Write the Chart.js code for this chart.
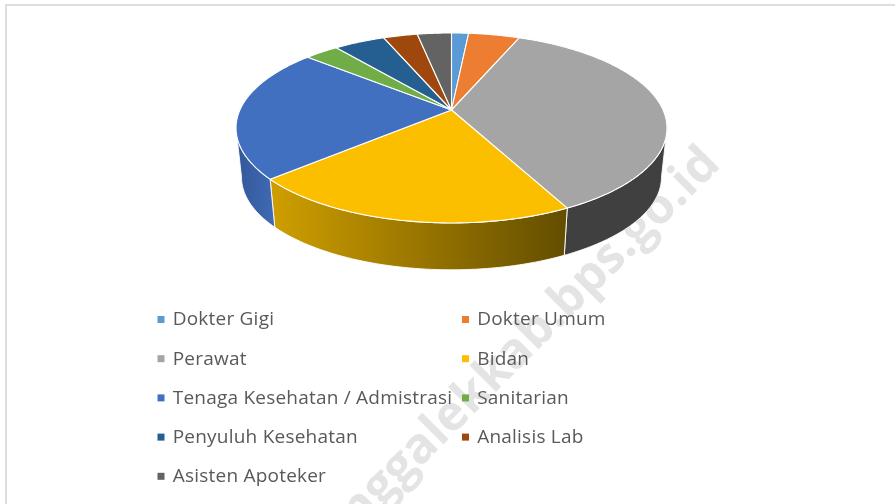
<!DOCTYPE html>
<html>
<head>
<meta charset="utf-8">
<style>
html,body{margin:0;padding:0;background:#fff;overflow:hidden}
canvas{display:block}
</style>
<script src="https://cdn.jsdelivr.net/npm/chart.js@4"></script>
</head>
<body>
<canvas id="c" width="895" height="504"></canvas>
<script>
const categories = ["Dokter Gigi","Dokter Umum","Perawat","Bidan","Tenaga Kesehatan / Admistrasi","Sanitarian","Penyuluh Kesehatan","Analisis Lab","Asisten Apoteker"];
const values = [10,30,237,137,148,20,30,20,20];
const colors = ["#5b9bd5","#ed7d31","#a5a5a5","#fbbf00","#4270c0","#70ad47","#255e91","#9e480e","#636363"];
const sideColors = ["#37678f","#8e4b1d","#404040",null,null,"#43682b","#163857","#5f2b08","#3b3b3b"];
const watermark = "trenggalekkab.bps.go.id";

// Projection of the flat pie plane into the tilted perspective view
const top3d = {cx:451.5, cy:110, a:211.6, b:91.6, k:0.189};
const base3d = {cx:451.5, cy:159.7, a:206.2, b:89.3, k:0.189};
const FRONT0 = 11*Math.PI/180, FRONT1 = 169*Math.PI/180;
function proj(p, ang){
  const w = 1 - p.k*Math.sin(ang);
  return [p.cx + p.a*Math.cos(ang)/w, p.cy + p.b*Math.sin(ang)/w];
}
function sideFill(ctx, i){
  if (categories[i] === "Bidan"){
    const g = ctx.createLinearGradient(270,0,567,0);
    g.addColorStop(0,"#cf9f00"); g.addColorStop(1,"#634d00");
    return g;
  }
  if (categories[i] === "Tenaga Kesehatan / Admistrasi"){
    const g = ctx.createLinearGradient(238,0,273,0);
    g.addColorStop(0,"#34599a"); g.addColorStop(1,"#3f69b3");
    return g;
  }
  return sideColors[i];
}
// Every slice keeps the angles Chart.js computed; only its outline is projected.
Chart.ArcElement.prototype.draw = function(ctx){
  const s = this.startAngle, e = this.endAngle;
  const i = this.$context ? this.$context.dataIndex : 0;
  ctx.save();
  ctx.lineJoin = "round";
  ctx.strokeStyle = "#ffffff";
  // side wall
  const a0 = Math.max(s, FRONT0), a1 = Math.min(e, FRONT1);
  if (a1 > a0){
    ctx.beginPath();
    const n = 60;
    for (let j=0;j<=n;j++){ const p = proj(top3d, a0+(a1-a0)*j/n); j?ctx.lineTo(p[0],p[1]):ctx.moveTo(p[0],p[1]); }
    for (let j=n;j>=0;j--){ const p = proj(base3d, a0+(a1-a0)*j/n); ctx.lineTo(p[0],p[1]); }
    ctx.closePath();
    ctx.fillStyle = sideFill(ctx, i);
    ctx.fill();
    ctx.lineWidth = 0.9;
    ctx.stroke();
  }
  // top face
  ctx.beginPath();
  ctx.moveTo(top3d.cx, top3d.cy);
  const n = Math.max(8, Math.ceil((e-s)*80));
  for (let j=0;j<=n;j++){ const p = proj(top3d, s+(e-s)*j/n); ctx.lineTo(p[0],p[1]); }
  ctx.closePath();
  ctx.fillStyle = this.options.backgroundColor;
  ctx.fill();
  ctx.lineWidth = 1.1;
  ctx.stroke();
  ctx.restore();
};

const backdrop = {
  id:"backdrop",
  beforeDraw(chart){
    const ctx = chart.ctx;
    ctx.save();
    ctx.fillStyle = "#fff"; ctx.fillRect(0,0,895,504);
    ctx.fillStyle = "#dedede";
    ctx.fillRect(5,4,890,2);
    ctx.fillRect(5,4,2,500);
    ctx.translate(712,156);
    ctx.rotate(-Math.PI/4);
    ctx.font = "bold 49px 'Open Sans'";
    ctx.textAlign = "right";
    ctx.textBaseline = "middle";
    ctx.fillStyle = "#e4e4e4";
    ctx.fillText(watermark,0,0);
    ctx.restore();
  }
};
const gridLegend = {
  id:"gridLegend",
  afterDraw(chart){
    const ctx = chart.ctx;
    const cols = [157.5,462];
    ctx.save();
    ctx.font = "19px 'Open Sans'";
    ctx.letterSpacing = "0.22px";
    ctx.textBaseline = "middle";
    ctx.textAlign = "left";
    categories.forEach((t,i)=>{
      const x = cols[i%2], y = 319 + 39.2*Math.floor(i/2);
      ctx.fillStyle = colors[i];
      ctx.fillRect(x,y-3,7,7);
      ctx.fillStyle = "#595959";
      ctx.fillText(t,x+15.2,y+1);
    });
    ctx.restore();
  }
};

new Chart(document.getElementById("c"),{
  type:"pie",
  data:{labels:categories,datasets:[{data:values,backgroundColor:colors}]},
  options:{
    responsive:false,
    animation:false,
    events:[],
    plugins:{legend:{display:false},tooltip:{enabled:false}}
  },
  plugins:[backdrop,gridLegend]
});
</script>
</body>
</html>
